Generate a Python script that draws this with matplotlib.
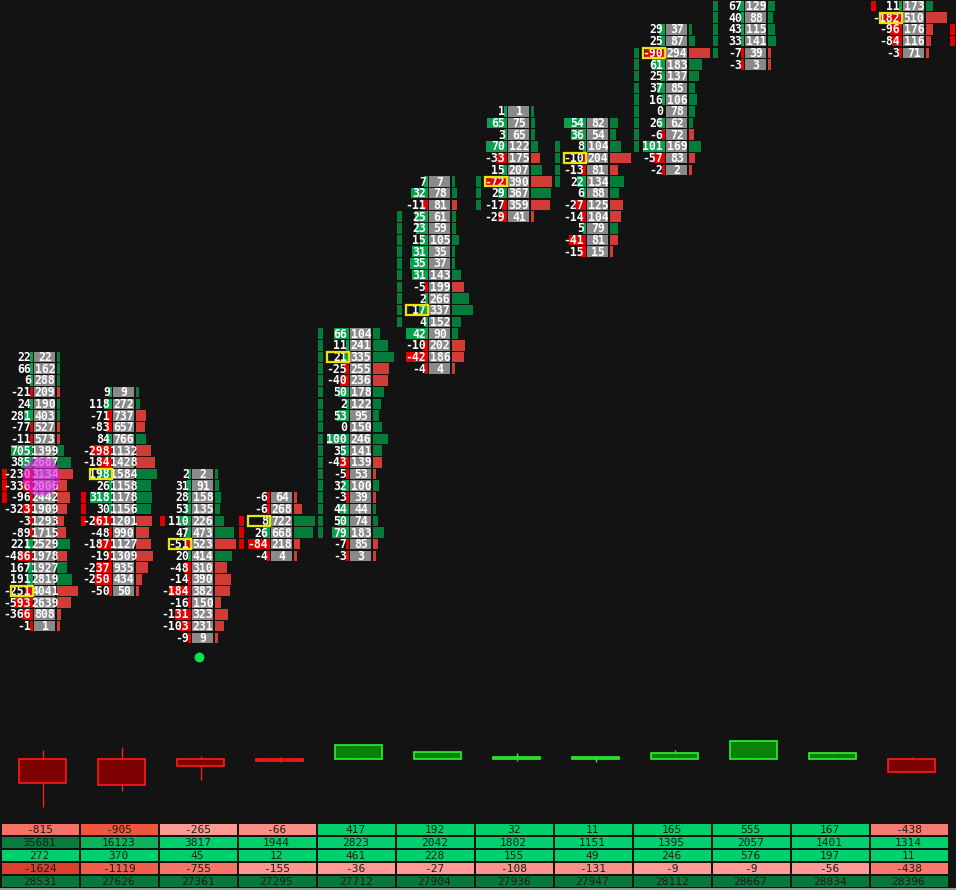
import matplotlib
matplotlib.use("Agg")
import matplotlib.pyplot as plt
from matplotlib.patches import Rectangle

# ---- footprint data: one list per bar, top price row first ----
tops = [0, 3, 10, 12, -2, -15, -21, -20, -28, -30, None, -30]
volumes = [
    [22, 162, 288, 209, 190, 403, 527, 573, 1399, 2667, 3134, 2006, 2442, 1909, 1293, 1715, 2529, 1978, 1927, 2819, 4041, 2639, 808, 1],
    [9, 272, 737, 657, 766, 1132, 1428, 1584, 1158, 1178, 1156, 1201, 990, 1127, 1309, 935, 434, 50],
    [2, 91, 158, 135, 226, 473, 523, 414, 310, 390, 382, 150, 323, 231, 9],
    [64, 268, 722, 668, 218, 4],
    [104, 241, 335, 255, 236, 178, 122, 95, 150, 246, 141, 139, 53, 100, 39, 44, 74, 183, 85, 3],
    [7, 78, 81, 61, 59, 105, 35, 37, 143, 199, 266, 337, 152, 90, 202, 186, 4],
    [1, 75, 65, 122, 175, 207, 390, 367, 359, 41],
    [82, 54, 104, 204, 81, 134, 88, 125, 104, 79, 81, 15],
    [37, 87, 294, 183, 137, 85, 106, 78, 62, 72, 169, 83, 2],
    [129, 88, 115, 141, 39, 3],
    [],
    [173, 510, 176, 116, 71],
]
deltas = [
    [22, 66, 6, -21, 24, 281, -77, -11, 705, 385, -230, -336, -96, -323, -3, -89, 221, -486, 167, 191, -251, -593, -366, -1],
    [9, 118, -71, -83, 84, -298, -184, 198, 26, 318, 30, -261, -48, -187, -19, -237, -250, -50],
    [2, 31, 28, 53, 110, 47, -51, 20, -48, -14, -184, -16, -131, -103, -9],
    [-6, -6, 8, 26, -84, -4],
    [66, 11, 21, -25, -40, 50, 2, 53, 0, 100, 35, -43, -5, 32, -3, 44, 50, 79, -7, -3],
    [7, 32, -11, 25, 23, 15, 31, 35, 31, -5, 2, 17, 4, 42, -10, -42, -4],
    [1, 65, 3, 70, -33, 15, -72, 29, -17, -29],
    [54, 36, 8, -10, -13, 22, 6, -27, -14, 5, -41, -15],
    [29, 25, -90, 61, 25, 37, 16, 0, 26, -6, 101, -57, -2],
    [67, 40, 43, 33, -7, -3],
    [],
    [11, -182, -96, -84, -3],
]
# bar 10 has rows above the view, so its scales come from hidden rows
vol_scale = [None] * 9 + [370, None, None]
delta_scale = [None] * 9 + [290, None, None]
poc_levels = [20, 10, 16, 14, 0, -4, -15, -17, -26, None, None, -29]

# stacked imbalance markers: (bar, first level, last level, side)
markers = [
    (0, 10, 12, 'sell'), (1, 12, 14, 'sell'), (2, 14, 14, 'sell'),
    (3, 14, 16, 'sell'), (4, -2, 15, 'buy'), (5, -12, -3, 'buy'),
    (6, -15, -13, 'buy'), (7, -18, -15, 'buy'), (8, -26, -18, 'buy'),
    (9, -31, -26, 'buy'), (11, -30, -30, 'sell'), (12, -28, -27, 'sell'),
]

# ---- candles (relative to each bar's open) ----
c_open = [0] * 12
c_high = [8.5, 11.8, 2.5, 1.5, 14.5, 7.5, 5.2, 2.8, 8.5, 18.5, 6.5, 1.5]
c_low = [-48.2, -32.5, -21.2, -3.5, 0, 0, -2.2, -3.2, 0, 0, 0, -13.2]
c_close = [-24.5, -26.8, -7.8, -2.2, 13.2, 6.2, 1.5, 1.5, 5.2, 17.2, 5.2, -13.2]

# ---- summary table ----
tbl_delta = [-815, -905, -265, -66, 417, 192, 32, 11, 165, 555, 167, -438]
tbl_volume = [35681, 16123, 3817, 1944, 2823, 2042, 1802, 1151, 1395, 2057, 1401, 1314]
tbl_max_delta = [272, 370, 45, 12, 461, 228, 155, 49, 246, 576, 197, 11]
tbl_min_delta = [-1624, -1119, -755, -155, -36, -27, -108, -131, -9, -9, -56, -438]
tbl_cum_delta = [28531, 27626, 27361, 27295, 27712, 27904, 27936, 27947, 28112, 28667, 28834, 28396]

# ---- styles ----
BG = '#131313'
GRAY = '#8a8a8a'
D_GREEN, D_RED = '#0aa04f', '#e60000'
V_GREEN, V_RED = '#067c3b', '#d23c36'
M_COLORS = {'buy': '#087a3a', 'sell': '#e00000'}
YELLOW = '#e6e600'
G = '#00d06b'
tbl_colors = [
    ['#f47266', '#f0553f', '#fa9a93', '#fb8d87', G, G, G, G, G, G, G, '#f67c72'],
    ['#0a7a3e', '#0db25c'] + [G] * 10,
    [G] * 12,
    ['#d9412f', '#ef5f4c', '#f77567', '#fb978f', '#fd9b94', '#fd9b94', '#fb948c',
     '#fa928a', '#fd9c95', '#fd9c95', '#fc9a93', '#f7796d'],
    ['#08773c'] * 12,
]

W, H = 956, 890
COL = 79.0
ROW = 11.7
X0 = 1.0
Y0 = 357.0
CELL = 0.9


def px(v):
    return v / COL


fig = plt.figure(figsize=(W / 100, H / 100), dpi=100)
fig.patch.set_facecolor(BG)
xlim = (-X0 / COL, (W - X0) / COL)

ax = fig.add_axes([0, 0, 1, 1])
ax.set_xlim(*xlim)
ax.set_ylim((H - Y0) / ROW, -Y0 / ROW)
ax.axis('off')

fp = dict(family='DejaVu Sans Mono', fontsize=8.3, fontweight='bold', color='white', zorder=5)

for i, top in enumerate(tops):
    vols, dels = volumes[i], deltas[i]
    if not vols:
        continue
    vmax = vol_scale[i] or max(vols)
    dmax = delta_scale[i] or max(abs(d) for d in dels)
    for k, (v, d) in enumerate(zip(vols, dels)):
        lvl = top + k
        y = lvl - CELL / 2
        if d != 0:
            w = max(3, 22 * abs(d) / dmax)
            ax.add_patch(Rectangle((i + px(32 - w), y), px(w), CELL,
                                   fc=D_GREEN if d > 0 else D_RED, lw=0, zorder=2))
        ax.add_patch(Rectangle((i + px(33), y), px(21), CELL, fc=GRAY, lw=0, zorder=2))
        w = max(3, 21 * v / vmax)
        ax.add_patch(Rectangle((i + px(56), y), px(w), CELL,
                               fc=V_GREEN if d >= 0 else V_RED, lw=0, zorder=2))
        ax.text(i + px(30), lvl + 0.05, str(d), ha='right', va='center', **fp)
        ax.text(i + px(44), lvl + 0.05, str(v), ha='center', va='center', **fp)
    if poc_levels[i] is not None:
        ax.add_patch(Rectangle((i + px(10), poc_levels[i] - 0.42), px(22), 0.84,
                               fc='none', ec=YELLOW, lw=1.6, zorder=6))

for b, l1, l2, side in markers:
    for lvl in range(l1, l2 + 1):
        ax.add_patch(Rectangle((b + px(1), lvl - CELL / 2), px(5), CELL,
                               fc=M_COLORS[side], lw=0, zorder=2))

# big trade bubble and small marker dot
ax.scatter([px(40)], [10.15], s=750, color='#e01ee0', alpha=0.62, lw=0, zorder=7)
ax.scatter([2 + px(40)], [25.6], s=50, color='#00e64d', lw=0, zorder=7)

# ---- candle panel ----
ax_c = fig.add_axes([0, 75 / H, 1, 80 / H])
ax_c.set_xlim(*xlim)
ax_c.set_ylim(-56.5, 23.5)
ax_c.axis('off')
ax_c.patch.set_alpha(0)
for i in range(12):
    o, h, l, c = c_open[i], c_high[i], c_low[i], c_close[i]
    up = c >= o
    edge = '#2cf22c' if up else '#ff1a1a'
    fill = '#0a820a' if up else '#7d0000'
    cx = i + px(41.5)
    ax_c.vlines(cx, l, h, color=edge, lw=1, zorder=2)
    ax_c.add_patch(Rectangle((i + px(18), min(o, c)), px(47), abs(c - o),
                             fc=fill, ec=edge, lw=1.2, zorder=3))

# ---- summary table ----
ax_t = fig.add_axes([0, 2 / H, 1, 65 / H])
ax_t.set_xlim(*xlim)
ax_t.set_ylim(5, 0)
ax_t.axis('off')
rows = [tbl_delta, tbl_volume, tbl_max_delta, tbl_min_delta, tbl_cum_delta]
for r, vals in enumerate(rows):
    for i, v in enumerate(vals):
        ax_t.add_patch(Rectangle((i + px(0.75), r + 0.06), px(77.5), 0.88,
                                 fc=tbl_colors[r][i], lw=0))
        ax_t.text(i + 0.5 - px(1), r + 0.55, str(v), ha='center', va='center',
                  family='DejaVu Sans Mono', fontsize=8, color='#1c1c1c')

fig.add_artist(Rectangle((0, 0), 1, 2 / H, transform=fig.transFigure,
                         fc='#9a9a9a', lw=0))

fig.savefig('out.png', dpi=100, facecolor=BG)
